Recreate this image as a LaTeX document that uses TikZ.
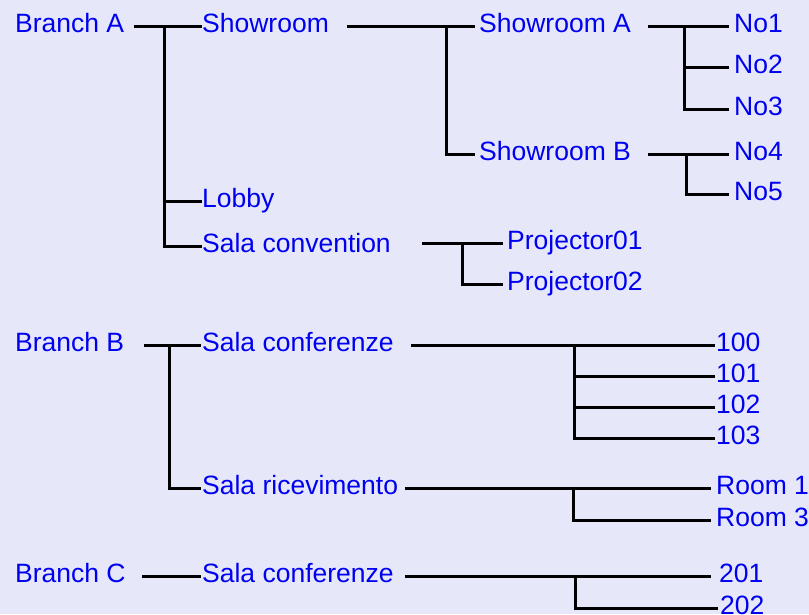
\documentclass[tikz,border=0pt]{standalone}
\usepackage{fontspec}
\setmainfont{Liberation Sans}
\definecolor{bg}{RGB}{230,232,250}
\definecolor{txt}{RGB}{0,0,240}
\begin{document}
\begin{tikzpicture}[x=1pt,y=-1pt,
  lbl/.style={anchor=west,inner xsep=0pt,inner ysep=0pt,text height=18pt,text depth=6pt,text=txt,font=\fontsize{26.5}{30}\selectfont},
  link/.style={line width=3pt,draw=black}]
\fill[bg] (0,0) rectangle (809,614);
\useasboundingbox (0,0) rectangle (809,614);
% Branch A
\node[lbl] (ba) at (15,26.5) {Branch A};
\node[lbl] (sh) at (202,26.5) {Showroom};
\node[lbl] (lo) at (202,201) {Lobby};
\node[lbl] (sc) at (202,246) {Sala convention};
\node[lbl] (sa) at (479,26.5) {Showroom A};
\node[lbl] (sb) at (479,154.5) {Showroom B};
\node[lbl] (n1) at (734,26.5) {No1};
\node[lbl] (n2) at (734,67) {No2};
\node[lbl] (n3) at (734,109) {No3};
\node[lbl] (n4) at (734,154.5) {No4};
\node[lbl] (n5) at (734,194) {No5};
\node[lbl] (p1) at (507,243) {Projector01};
\node[lbl] (p2) at (507,284) {Projector02};
% Branch B
\node[lbl] (bb) at (15,345) {Branch B};
\node[lbl] (cb) at (202,345) {Sala conferenze};
\node[lbl] (r100) at (716,345) {100};
\node[lbl] (r101) at (716,376) {101};
\node[lbl] (r102) at (716,407) {102};
\node[lbl] (r103) at (716,438) {103};
\node[lbl] (sr) at (202,488) {Sala ricevimento};
\node[lbl] (rm1) at (716,488) {Room 1};
\node[lbl] (rm3) at (716,520) {Room 3};
% Branch C
\node[lbl] (bc) at (15,576) {Branch C};
\node[lbl] (cc) at (202,576) {Sala conferenze};
\node[lbl] (r201) at (719,576) {201};
\node[lbl] (r202) at (720,608) {202};
% connector points
\coordinate (ba-o) at (134,26.5); \coordinate (ba-j) at (164,26.5);
\coordinate (sh-o) at (347,26.5); \coordinate (sh-j) at (446,26.5);
\coordinate (sa-o) at (648,26.5); \coordinate (sa-j) at (684,26.5);
\coordinate (sb-o) at (648,154.5); \coordinate (sb-j) at (686,154.5);
\coordinate (sc-o) at (422,243); \coordinate (sc-j) at (462,243);
\coordinate (bb-o) at (144,345); \coordinate (bb-j) at (169,345);
\coordinate (cb-o) at (411,345); \coordinate (cb-j) at (574,345);
\coordinate (sr-o) at (405,488); \coordinate (sr-j) at (573,488);
\coordinate (bc-o) at (142,576);
\coordinate (cc-o) at (405,576); \coordinate (cc-j) at (575,576);
% connectors
\draw[link] (ba-o) -- (sh.west);
\draw[link] (ba-j) |- (lo.west);
\draw[link] (ba-j) |- (sc.west);
\draw[link] (sh-o) -- ([xshift=-4pt]sa.west);
\draw[link] (sh-j) |- ([xshift=-4pt]sb.west);
\draw[link] (sa-o) -- ([xshift=-5pt]n1.west);
\draw[link] (sa-j) |- ([xshift=-5pt]n2.west);
\draw[link] (sa-j) |- ([xshift=-5pt]n3.west);
\draw[link] (sb-o) -- ([xshift=-5pt]n4.west);
\draw[link] (sb-j) |- ([xshift=-5pt]n5.west);
\draw[link] (sc-o) -- ([xshift=-4pt]p1.west);
\draw[link] (sc-j) |- ([xshift=-4pt]p2.west);
\draw[link] (bb-o) -- ([xshift=-1pt]cb.west);
\draw[link] (bb-j) |- ([xshift=-1pt]sr.west);
\draw[link] (cb-o) -- ([xshift=-1pt]r100.west);
\draw[link] (cb-j) |- ([xshift=-1pt]r101.west);
\draw[link] (cb-j) |- ([xshift=-1pt]r102.west);
\draw[link] (cb-j) |- ([xshift=-1pt]r103.west);
\draw[link] (sr-o) -- ([xshift=-5pt]rm1.west);
\draw[link] (sr-j) |- ([xshift=-5pt]rm3.west);
\draw[link] (bc-o) -- ([xshift=-1pt]cc.west);
\draw[link] (cc-o) -- ([xshift=-8pt]r201.west);
\draw[link] (cc-j) |- ([xshift=-2pt]r202.west);
\end{tikzpicture}
\end{document}
